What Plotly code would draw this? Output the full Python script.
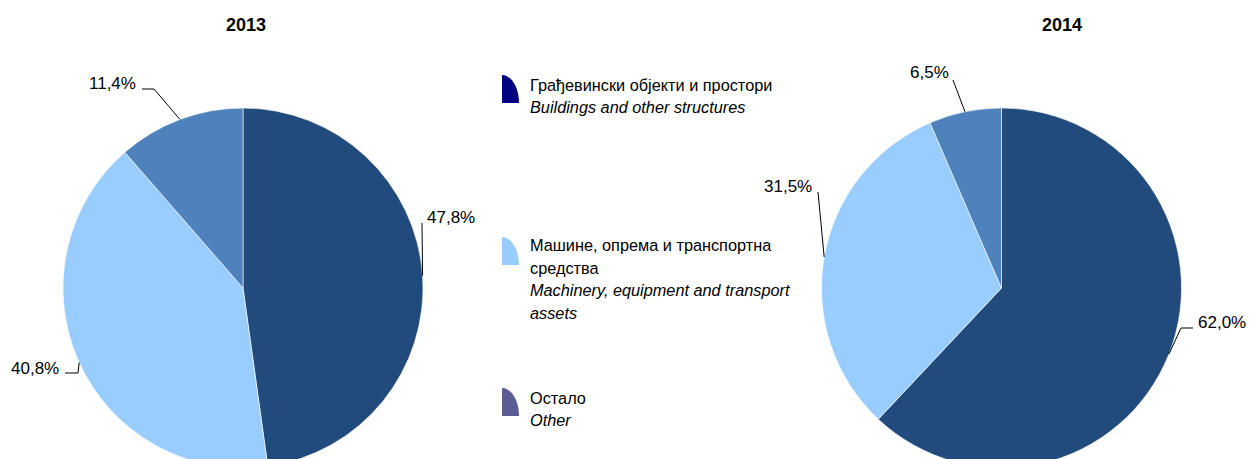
import math
import plotly.graph_objects as go

# ---------------- data ----------------
years = ["2013", "2014"]
categories_sr = ["Грађевински објекти и простори",
                 "Машине, опрема и транспортна<br>средства",
                 "Остало"]
categories_en = ["Buildings and other structures",
                 "Machinery, equipment and transport<br>assets",
                 "Other"]
values_2013 = [47.8, 40.8, 11.4]
values_2014 = [62.0, 31.5, 6.5]

# ---------------- styles / layout ----------------
W, H = 1251, 475
slice_colors = ["#214A7D", "#99CCFF", "#4F81BD"]
legend_colors = ["#000080", "#99CCFF", "#5B5B96"]
FONT = "Liberation Sans, Arial, sans-serif"

pie_centers = [(243, 288), (1001.5, 288)]
R = 180
title_pos = [(246, 25), (1062, 25)]

# label text anchor (x, y, xanchor) and leader points (before the slice edge), in pixels
label_layout = [
    [  # 2013
        dict(x=425, y=217, xa="left", pts=[(422, 223)]),
        dict(x=61, y=368, xa="right", pts=[(65, 373), (78, 373)]),
        dict(x=138, y=83, xa="right", pts=[(142, 89), (154, 89)]),
    ],
    [  # 2014
        dict(x=1196, y=322, xa="left", pts=[(1193, 328), (1181, 328)]),
        dict(x=814, y=186, xa="right", pts=[(818, 192)]),
        dict(x=951, y=73, xa="right", pts=[(953, 80)]),
    ],
]


def px(x):
    return x / W


def py(y):
    return 1 - y / H


def fmt(v):
    return f"{v:.1f}".replace(".", ",") + "%"


fig = go.Figure()
shapes = []
annotations = []

for i, vals in enumerate([values_2013, values_2014]):
    cx, cy = pie_centers[i]
    fig.add_trace(go.Pie(
        values=vals,
        labels=[c.replace("<br>", " ") for c in categories_sr],
        sort=False,
        direction="clockwise",
        rotation=0,
        textinfo="none",
        hoverinfo="label+percent",
        marker=dict(colors=slice_colors, line=dict(color="white", width=0.6)),
        domain=dict(x=[px(cx - R), px(cx + R)], y=[py(cy + R), py(cy - R)]),
        showlegend=False,
    ))
    annotations.append(dict(
        x=px(title_pos[i][0]), y=py(title_pos[i][1]), xref="paper", yref="paper",
        text=f"<b>{years[i]}</b>", showarrow=False, xanchor="center", yanchor="middle",
        font=dict(family=FONT, size=18, color="black")))

    total = sum(vals)
    cum = 0.0
    for j, v in enumerate(vals):
        mid = (cum + v / 2) / total * 2 * math.pi
        cum += v
        ex = cx + R * math.sin(mid)
        ey = cy - R * math.cos(mid)
        lay = label_layout[i][j]
        pts = lay["pts"] + [(ex, ey)]
        path = "M " + " L ".join(f"{px(a):.5f},{py(b):.5f}" for a, b in pts)
        shapes.append(dict(type="path", xref="paper", yref="paper", path=path,
                           line=dict(color="black", width=1)))
        annotations.append(dict(
            x=px(lay["x"]), y=py(lay["y"]), xref="paper", yref="paper",
            text=fmt(v), showarrow=False, xanchor=lay["xa"], yanchor="middle",
            font=dict(family=FONT, size=17, color="black")))

# ---------------- custom legend ----------------
legend_icon_tops = [75, 237, 388]
legend_text_lines = [
    [85, 107],
    [245, 268, 290, 313],
    [398, 420],
]
icon_x0, icon_w, icon_h = 502, 17, 28
text_x = 528
for k in range(3):
    top = legend_icon_tops[k]
    x0, x1 = icon_x0, icon_x0 + icon_w
    y0, y1 = top, top + icon_h
    path = (f"M {px(x0)},{py(y1)} L {px(x0)},{py(y0)} "
            f"C {px(x0 + 0.552 * icon_w)},{py(y0)} {px(x1)},{py(y1 - 0.552 * icon_h)} {px(x1)},{py(y1)} Z")
    shapes.append(dict(type="path", xref="paper", yref="paper", path=path,
                       fillcolor=legend_colors[k], line=dict(width=0)))
    lines = categories_sr[k].split("<br>") + [f"<i>{t}</i>" for t in categories_en[k].split("<br>")]
    for t, ly in zip(lines, legend_text_lines[k]):
        annotations.append(dict(
            x=px(text_x), y=py(ly), xref="paper", yref="paper", text=t,
            showarrow=False, xanchor="left", yanchor="middle",
            font=dict(family=FONT, size=16.3, color="black")))

fig.update_layout(
    width=W, height=H,
    margin=dict(l=0, r=0, t=0, b=0),
    paper_bgcolor="white", plot_bgcolor="white",
    shapes=shapes, annotations=annotations,
)

post = ("var gd=document.getElementById('{plot_id}');"
        "document.documentElement.style.overflow='hidden';"
        "document.body.style.overflow='hidden';"
        "document.body.style.margin='0';"
        "gd.parentElement.style.height='459px';"
        "gd.parentElement.style.overflow='hidden';")
fig.write_html("out.html", post_script=post, config={"displayModeBar": False})
